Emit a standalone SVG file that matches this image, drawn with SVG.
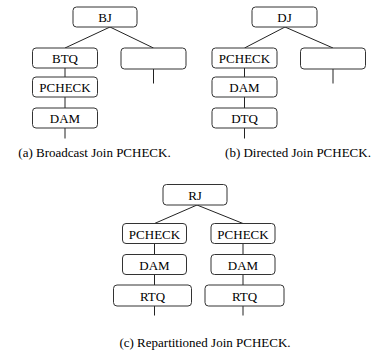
<svg xmlns="http://www.w3.org/2000/svg" width="373" height="354" viewBox="0 0 373 354">
<style>
.box{fill:#fff;stroke:#333;stroke-width:1}
.lbl{font-family:"Liberation Serif","Times New Roman",Times,serif;font-size:13px;fill:#000;text-anchor:middle}
.cap{font-family:"Liberation Serif","Times New Roman",Times,serif;font-size:13px;fill:#000;text-anchor:middle}
.edge{stroke:#222;stroke-width:1;fill:none}
</style>
<rect width="373" height="354" fill="#fff"/>
<g id="connectors">
<path class="edge" d="M110,27L65,48M110,27L153.5,48M65,68V77M65,97V108M65,128V138.5M153.5,69V83.5"/>
<path class="edge" d="M285,27L244.5,48M285,27L333,48M244.5,68V77M244.5,97V108M244.5,128V138.5M333,69V83.5"/>
<path class="edge" d="M197,205L154.5,223.5M197,205L243,223.5M154.5,243.5V254.5M154.5,274.5V285M243,243.5V254.5M243,274.5V285M154.5,306V315.5M243,306V315.5"/>
</g>
<g id="bj"><rect class="box" x="73" y="7" width="64" height="20" rx="3.5"/><text class="lbl" x="105" y="22">BJ</text></g>
<g id="btq"><rect class="box" x="32.5" y="48" width="65" height="20" rx="3.5"/><text class="lbl" x="65" y="63">BTQ</text></g>
<g id="a_blank"><rect class="box" x="121" y="48" width="65" height="21" rx="3.5"/></g>
<g id="a_pcheck"><rect class="box" x="32.5" y="77" width="65" height="20" rx="3.5"/><text class="lbl" x="65" y="92">PCHECK</text></g>
<g id="a_dam"><rect class="box" x="32.5" y="108" width="65" height="20" rx="3.5"/><text class="lbl" x="65" y="123">DAM</text></g>
<text class="cap" x="94.5" y="157.3">(a) Broadcast Join PCHECK.</text>

<g id="dj"><rect class="box" x="252" y="7" width="65" height="20" rx="3.5"/><text class="lbl" x="284.5" y="22">DJ</text></g>
<g id="b_pcheck"><rect class="box" x="212" y="48" width="65" height="20" rx="3.5"/><text class="lbl" x="244.5" y="63">PCHECK</text></g>
<g id="b_blank"><rect class="box" x="300.5" y="48" width="65" height="21" rx="3.5"/></g>
<g id="b_dam"><rect class="box" x="212" y="77" width="65" height="20" rx="3.5"/><text class="lbl" x="244.5" y="92">DAM</text></g>
<g id="dtq"><rect class="box" x="212" y="108" width="65" height="20" rx="3.5"/><text class="lbl" x="244.5" y="123">DTQ</text></g>
<text class="cap" x="298" y="157.3">(b) Directed Join PCHECK.</text>

<g id="rj"><rect class="box" x="163" y="184.5" width="64" height="20.5" rx="3.5"/><text class="lbl" x="195" y="199.5">RJ</text></g>
<g id="c_pcheck1"><rect class="box" x="122.5" y="223.5" width="64" height="20" rx="3.5"/><text class="lbl" x="154.5" y="238.5">PCHECK</text></g>
<g id="c_pcheck2"><rect class="box" x="211" y="223.5" width="64" height="20" rx="3.5"/><text class="lbl" x="243" y="238.5">PCHECK</text></g>
<g id="c_dam1"><rect class="box" x="122.5" y="254.5" width="64" height="20" rx="3.5"/><text class="lbl" x="154.5" y="269.5">DAM</text></g>
<g id="c_dam2"><rect class="box" x="211" y="254.5" width="64" height="20" rx="3.5"/><text class="lbl" x="243" y="269.5">DAM</text></g>
<g id="rtq1"><rect class="box" x="113.5" y="285" width="78" height="21" rx="3.5"/><text class="lbl" x="152.5" y="300.5">RTQ</text></g>
<g id="rtq2"><rect class="box" x="205" y="285" width="79" height="21" rx="3.5"/><text class="lbl" x="244.5" y="300.5">RTQ</text></g>
<text class="cap" x="205" y="347.3">(c) Repartitioned Join PCHECK.</text>
</svg>
